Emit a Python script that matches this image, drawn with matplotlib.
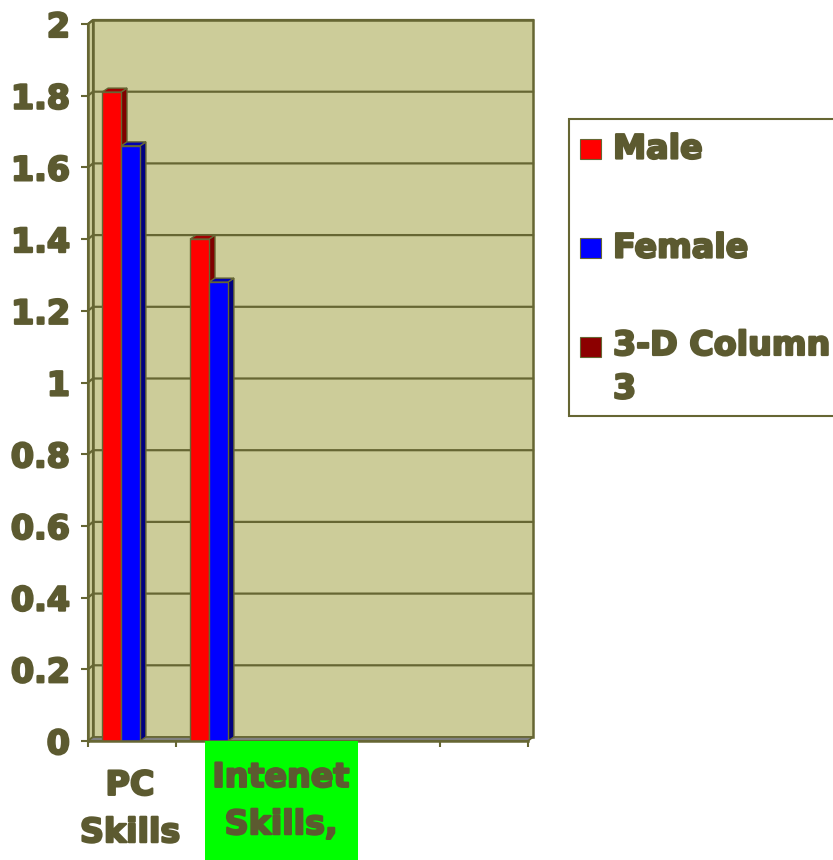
import matplotlib
matplotlib.use("Agg")
import matplotlib.pyplot as plt
import matplotlib.patheffects as pe
from matplotlib.patches import Polygon, Rectangle

# ---- data ----
categories = ["PC\nSkills", "Intenet\nSkills,", "", "", ""]
male = [1.81, 1.40]
female = [1.66, 1.28]
series_names = ["Male", "Female", "3-D Column\n3"]
series_colors = ["#FF0000", "#0000FF", "#8C0000"]
side_colors = ["#800000", "#000080"]
top_colors = ["#A00000", "#0000B0"]
yticks = [0, 0.2, 0.4, 0.6, 0.8, 1, 1.2, 1.4, 1.6, 1.8, 2]
ytick_labels = ["0", "0.2", "0.4", "0.6", "0.8", "1", "1.2", "1.4", "1.6", "1.8", "2"]

W, H = 833, 860
TEXT = "#5C5A30"
LINE = "#666633"
WALL = "#CCCC99"
plt.rcParams["font.family"] = ["DejaVu Sans"]
plt.rcParams["font.weight"] = "bold"
FS = 24
HEAVY = [pe.withStroke(linewidth=1.6, foreground=TEXT)]

def fx(px):
    return px / W

def fy(py):
    return 1 - py / H

fig = plt.figure(figsize=(W / 100, H / 100), dpi=100)
fig.patch.set_facecolor("white")
ax = fig.add_axes([fx(88), fy(741), 440 / W, 717 / H])
ncat = len(categories)
ax.set_xlim(0, ncat)
ax.set_ylim(0, 2)
ax.patch.set_visible(False)

# depth offsets (data units)
DX = 5 / 88.0
DY = 4 / 358.5
BDX = 6 / 88.0
BDY = 4 / 358.5

# back wall
ax.add_patch(Rectangle((DX, DY), ncat, 2, facecolor=WALL, edgecolor=LINE, lw=1.8,
                       clip_on=False, zorder=0))
# left side wall
ax.add_patch(Polygon([(0, 0), (DX, DY), (DX, 2 + DY), (0, 2)], closed=True,
                     facecolor=WALL, edgecolor=LINE, lw=1.5, clip_on=False, zorder=0.5))
# floor
ax.add_patch(Polygon([(0, 0), (ncat, 0), (ncat + DX, DY), (DX, DY)], closed=True,
                     facecolor="#808080", edgecolor=LINE, lw=1.2, clip_on=False, zorder=0.6))
# gridlines
for v in yticks[1:]:
    ax.plot([0, DX, ncat + DX], [v, v + DY, v + DY], color=LINE, lw=1.6,
            clip_on=False, zorder=0.7)

# bars
bw = 0.215
offsets = [0.16, 0.16 + bw]
for s, vals in enumerate([male, female]):
    xs = [i + offsets[s] for i in range(len(vals))]
    ax.bar(xs, vals, width=bw, align="edge", color=series_colors[s],
           edgecolor=LINE, lw=1.0, zorder=3, label=series_names[s])
    for x0, v in zip(xs, vals):
        x1 = x0 + bw
        ax.add_patch(Polygon([(x1, 0), (x1 + BDX, BDY), (x1 + BDX, v + BDY), (x1, v)],
                             closed=True, facecolor=side_colors[s], edgecolor=LINE,
                             lw=1.0, zorder=2.5, clip_on=False))
        ax.add_patch(Polygon([(x0, v), (x0 + BDX, v + BDY), (x1 + BDX, v + BDY), (x1, v)],
                             closed=True, facecolor=top_colors[s], edgecolor=LINE,
                             lw=1.0, zorder=2.5, clip_on=False))

# axes / ticks
for sp in ["top", "right"]:
    ax.spines[sp].set_visible(False)
for sp in ["left", "bottom"]:
    ax.spines[sp].set_color(LINE)
    ax.spines[sp].set_linewidth(1.8)
    ax.spines[sp].set_zorder(4)
ax.set_yticks(yticks)
ax.set_yticklabels(ytick_labels)
ax.set_xticks(range(ncat + 1))
ax.set_xticklabels([""] * (ncat + 1))
ax.tick_params(axis="y", direction="out", length=5, width=1.5, color=LINE,
               labelsize=FS, labelcolor=TEXT, pad=8)
ax.tick_params(axis="x", direction="out", length=4.5, width=1.5, color=LINE)
for t in ax.get_yticklabels():
    t.set_fontweight("bold")
    t.set_path_effects(HEAVY)

# category labels
green = Rectangle((fx(205), fy(860)), (358 - 205) / W, (860 - 741) / H,
                  transform=fig.transFigure, facecolor="#00FF00", edgecolor="none", zorder=0)
fig.patches.append(green)
fig.text(fx(130), fy(809), categories[0], ha="center", va="center", fontsize=FS,
         color=TEXT, fontweight="bold", linespacing=1.55, path_effects=HEAVY)
fig.text(fx(281), fy(801), categories[1], ha="center", va="center", fontsize=FS,
         color=TEXT, fontweight="bold", linespacing=1.55, path_effects=HEAVY)

# legend
fig.patches.append(Rectangle((fx(569), fy(416)), (900 - 569) / W, (416 - 119) / H,
                             transform=fig.transFigure, facecolor="white",
                             edgecolor=LINE, lw=1.5, zorder=1))
leg_y = [149, 248, 347]
for name, col, yy in zip(series_names, series_colors, leg_y):
    fig.patches.append(Rectangle((fx(580), fy(yy + 10)), 21 / W, 20 / H,
                                 transform=fig.transFigure, facecolor=col,
                                 edgecolor=LINE, lw=0.8, zorder=2))
for name, yy in zip(series_names[:2], leg_y[:2]):
    fig.text(fx(613), fy(yy), name, ha="left", va="center", fontsize=FS,
             color=TEXT, fontweight="bold", path_effects=HEAVY)
# multi-line legend label
fig.text(fx(613), fy(347 - 18), series_names[2], ha="left", va="top", fontsize=FS,
         color=TEXT, fontweight="bold", linespacing=1.4, path_effects=HEAVY)

fig.savefig("out.png", dpi=100)
